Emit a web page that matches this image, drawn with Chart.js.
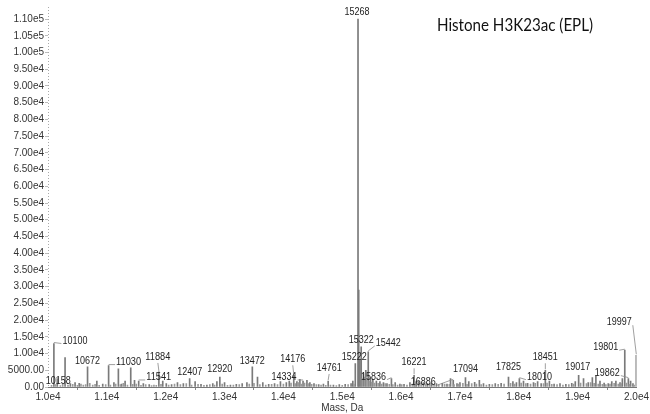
<!DOCTYPE html>
<html><head><meta charset="utf-8">
<script src="https://cdn.jsdelivr.net/npm/chart.js@4"></script>
<style>html,body{margin:0;padding:0;background:#fff}</style>
</head><body>
<canvas id="c" width="650" height="414" style="width:650px;height:414px"></canvas>
<script>
// ---- data ----
const labeledMasses = [10100,10158,10672,11030,11541,11884,12407,12920,13472,14176,14334,14761,15222,15268,15322,15442,15836,16221,16886,17094,17825,18010,18451,19017,19801,19862,19997];
const labeledIntensities = [13000,2500,6000,6400,1800,4500,2500,3000,6000,3500,1800,1800,7000,110000,12000,10500,2500,3500,2000,2800,3000,2500,5000,3500,11000,2500,9500];

const minorMasses = [10290,10380,10460,10530,10830,10930,11120,11196,11250,11310,11406,11470,11620,11720,11950,12010,12100,12200,12300,12500,12600,12700,12800,12870,13000,13100,13200,13300,13380,13560,13650,13750,13850,13950,14050,14100,14230,14280,14400,14450,14520,14600,14680,14850,14950,15050,15150,15180,15280,15300,15360,15400,15480,15520,15580,15640,15700,15760,15900,15980,16050,16150,16260,16300,16380,16450,16520,16600,16700,16780,16840,16950,17000,17150,17250,17330,17400,17500,17600,17700,17900,17960,18080,18150,18250,18320,18380,18520,18600,18700,18800,18900,18960,19100,19180,19250,19310,19380,19450,19520,19580,19650,19720,19760,19900,19940];
const minorIntensities = [8800,1000,1300,1100,1800,900,1300,5400,900,1800,5700,2000,1000,700,1800,1000,700,1300,1000,1600,800,600,1000,1600,1300,600,800,1000,1300,3000,1300,800,1000,1600,1300,1800,1600,2300,2000,1300,1000,700,900,600,700,800,1000,1800,29000,8000,4000,5000,2800,2300,1800,1600,1300,1000,1300,900,800,1300,1800,1600,1300,1000,1200,1000,1100,900,2500,1000,1300,1600,1400,2000,1000,800,1000,1100,1600,1300,1800,1100,1300,1600,1000,1800,900,1000,800,1100,1600,2500,1300,2800,3500,1800,1200,1000,1600,1800,1300,2500,1800,1000];

// tiny baseline peaks: [mass, intensity]
const noisePeaks = [[10060,500],[10130,700],[10210,400],[10250,900],[10340,600],[10420,800],[10500,500],[10560,900],[10600,600],[10640,700],[10710,1100],[10760,600],[10800,800],[10870,500],[10980,700],[11060,600],[11150,900],[11230,700],[11280,1100],[11350,600],[11440,800],[11500,900],[11580,500],[11660,700],[11760,400],[11800,600],[11840,500],[11920,800],[12050,600],[12150,900],[12250,700],[12350,1000],[12440,600],[12550,800],[12650,500],[12750,700],[12830,600],[12960,900],[13050,500],[13150,600],[13250,700],[13420,900],[13500,1100],[13600,700],[13700,600],[13800,800],[13900,700],[14000,900],[14130,1200],[14200,1000],[14260,1300],[14310,900],[14360,1200],[14420,1000],[14480,800],[14560,700],[14640,600],[14720,500],[14800,600],[14900,400],[15000,500],[15100,700],[15200,900],[15340,2500],[15380,3000],[15420,2200],[15460,1800],[15500,1500],[15550,1200],[15610,1100],[15670,900],[15730,1000],[15800,800],[15860,700],[15940,600],[16010,700],[16100,600],[16190,900],[16240,1500],[16340,1100],[16420,900],[16490,1000],[16560,800],[16640,700],[16740,900],[16820,800],[16900,700],[16980,900],[17050,1100],[17120,800],[17200,1000],[17280,900],[17360,700],[17450,600],[17550,700],[17650,800],[17750,900],[17860,1100],[17930,900],[18040,1200],[18120,1000],[18200,900],[18280,1100],[18420,1000],[18480,1200],[18560,800],[18650,700],[18750,600],[18850,700],[18930,900],[19050,1200],[19150,1000],[19220,1300],[19280,1100],[19350,900],[19420,800],[19480,700],[19550,900],[19620,1100],[19690,900],[19740,1000],[19830,1200],[19880,800],[19960,600]];

const xTickValues = [10000,11000,12000,13000,14000,15000,16000,17000,18000,19000,20000];
const xTickLabels = ["1.0e4","1.1e4","1.2e4","1.3e4","1.4e4","1.5e4","1.6e4","1.7e4","1.8e4","1.9e4","2.0e4"];
const yTickValues = [0,5000,10000,15000,20000,25000,30000,35000,40000,45000,50000,55000,60000,65000,70000,75000,80000,85000,90000,95000,100000,105000,110000];
const yTickLabels = ["0.00","5000.00","1.00e4","1.50e4","2.00e4","2.50e4","3.00e4","3.50e4","4.00e4","4.50e4","5.00e4","5.50e4","6.00e4","6.50e4","7.00e4","7.50e4","8.00e4","8.50e4","9.00e4","9.50e4","1.00e5","1.05e5","1.10e5"];

const chartTitle = "Histone H3K23ac (EPL)";
const xAxisTitle = "Mass, Da";

// label placement relative to peak tops (pixels), same order as labeledMasses
const labelOffsets = [[21,-3],[1,2],[0,-6],[20,-4],[20,-4],[-1,-15],[0,-7],[0,-8],[0,-6],[-1,-16],[-19,-4],[1,-13],[-1,-7],[-1,-7],[0,-7],[20,-9],[-18,-2],[0,-13],[-30,2],[0,-9],[0,-10],[20,-2],[0,-13],[-1,-8],[-19,-3],[-21,-6],[-17,-33]];

const FONT = "'Liberation Sans', Arial, sans-serif";
Chart.defaults.font.family = FONT;

const peakLabels = {
  id: 'peakLabels',
  afterDatasetsDraw(chart) {
    const {ctx, scales: {x, y}, chartArea} = chart;
    ctx.save();
    ctx.strokeStyle = '#aaa';
    ctx.lineWidth = 1;
    ctx.setLineDash([1,2]);
    ctx.beginPath();
    ctx.moveTo(Math.round(chartArea.left) + 0.5, chartArea.top - 3);
    ctx.lineTo(Math.round(chartArea.left) + 0.5, chartArea.bottom);
    ctx.stroke();
    ctx.setLineDash([]);
    ctx.font = "11px " + FONT;
    ctx.textAlign = 'center';
    ctx.textBaseline = 'middle';
    const w = 25;
    labeledMasses.forEach((m, i) => {
      const px = x.getPixelForValue(m);
      const py = y.getPixelForValue(labeledIntensities[i]);
      const [dx, dy] = labelOffsets[i];
      const lx = px + dx, ly = py + dy;
      ctx.fillStyle = '#222';
      ctx.fillText(String(m), lx, ly, w);
      let sx = null, sy = null;
      if (dx >= 10) { sx = lx - w/2 - 1; sy = ly + 3; }
      else if (dx <= -10) { sx = lx + w/2 + 1; sy = ly + 3; }
      else if (dy <= -12) { sx = lx; sy = ly + 6; }
      if (sx !== null) {
        ctx.strokeStyle = '#888';
        ctx.lineWidth = 0.8;
        ctx.beginPath();
        ctx.moveTo(sx, sy);
        ctx.lineTo(px, py - 1);
        ctx.stroke();
      }
    });
    ctx.font = "17px Lato, 'Open Sans', sans-serif";
    ctx.textAlign = 'left';
    ctx.textBaseline = 'alphabetic';
    ctx.fillStyle = '#111';
    ctx.fillText(chartTitle, 437, 30.5, 156);
    ctx.restore();
  }
};

const STICK = '#7a7a7a';
new Chart(document.getElementById('c'), {
  type: 'bar',
  data: {
    datasets: [
      { data: noisePeaks.map(p => ({x: p[0], y: p[1]})), backgroundColor: '#9a9a9a', barThickness: 1, grouped: false, borderWidth: 0 },
      { data: minorMasses.map((m, i) => ({x: m, y: minorIntensities[i]})), backgroundColor: STICK, barThickness: 1, grouped: false, borderWidth: 0 },
      { data: labeledMasses.map((m, i) => ({x: m, y: labeledIntensities[i]})), backgroundColor: STICK, barThickness: 1, grouped: false, borderWidth: 0 }
    ]
  },
  options: {
    responsive: false,
    animation: false,
    devicePixelRatio: 1,
    layout: { padding: { top: 10, right: 11, left: 0, bottom: 0 } },
    plugins: { legend: { display: false }, tooltip: { enabled: false }, title: { display: false } },
    scales: {
      x: {
        type: 'linear', min: 10000, max: 20000, offset: false,
        afterBuildTicks: s => { s.ticks = xTickValues.map(v => ({value: v})); },
        afterFit: s => { s.height = 27; },
        ticks: { autoSkip: false, maxRotation: 0, minRotation: 0, padding: 1, color: '#333', font: { size: 10 }, callback: (v, i) => xTickLabels[i] },
        grid: { drawOnChartArea: false, tickLength: 3, color: '#888' },
        border: { color: '#777', width: 1 },
        title: { display: true, text: xAxisTitle, color: '#333', font: { size: 10 }, padding: 0 }
      },
      y: {
        min: 0, max: 112700,
        afterBuildTicks: s => { s.ticks = yTickValues.map(v => ({value: v})); },
        afterFit: s => { s.width = 48; },
        ticks: { autoSkip: false, padding: 1, color: '#333', font: { size: 10 }, callback: (v, i) => yTickLabels[i] },
        grid: { drawOnChartArea: false, tickLength: 3, color: '#bbb' },
        border: { display: false }
      }
    }
  },
  plugins: [peakLabels]
});
</script>
</body></html>
